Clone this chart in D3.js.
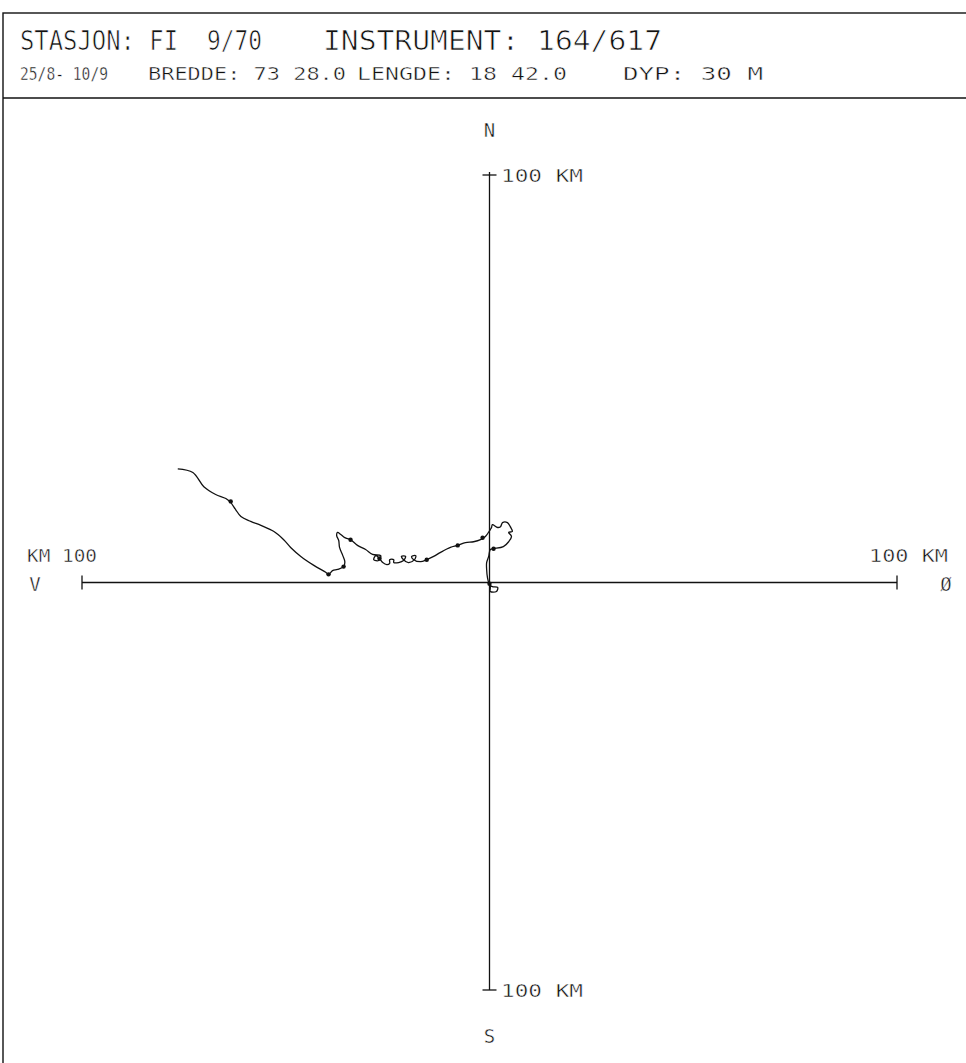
<!DOCTYPE html>
<html><head><meta charset="utf-8">
<script src="https://cdn.jsdelivr.net/npm/d3@7"></script>
<style>html,body{margin:0;padding:0;background:#fff;}svg{display:block;}</style>
</head><body>
<svg id="c" width="966" height="1063"></svg>
<script>
// ---- data (km east, km north) ----
const pathEastKm  = [0,0.2,0.2,1.7,2.0,0.7,0,-0.5,-0.7,-0.7,-0.2,0.2,1.0,3.4,4.7,5.4,4.7,5.6,5.1,4.4,3.2,2.7,2.0,0.7,0.5,0.2,-1.0,-2.2,-3.9,-5.9,-7.8,-9.6,-12.0,-13.7,-15.4,-16.9,-18.6,-19.1,-18.1,-18.4,-19.9,-21.1,-21.6,-20.6,-21.1,-22.3,-23.5,-23.5,-24.5,-24.5,-25.2,-26.2,-27.0,-27.9,-28.4,-27.2,-26.7,-28.7,-30.4,-32.4,-34.1,-35.5,-36.5,-37.3,-37.5,-37.0,-36.8,-36.0,-35.5,-35.8,-37.3,-38.5,-39.5,-40.2,-43.1,-46.3,-48.8,-50.5,-52.9,-56.1,-58.6,-61.0,-62.3,-63.5,-64.7,-67.2,-70.1,-72.8,-76.5];
const pathNorthKm = [0,-1.2,-2.2,-2.2,-1.2,-1.0,-0.5,1.2,3.2,4.9,6.4,8.1,8.3,8.8,10.0,11.3,12.3,12.5,13.7,14.7,14.7,13.7,13.5,14.2,13.5,13.0,11.3,10.5,10.0,9.8,9.1,8.6,7.4,6.4,5.6,5.1,5.6,6.4,6.6,5.6,4.9,5.6,6.4,6.4,5.4,4.9,4.9,5.6,5.6,4.7,4.4,4.9,5.9,6.6,5.6,5.4,6.6,6.9,8.1,9.1,10.5,11.0,11.8,12.3,11.5,10.3,8.6,6.6,5.1,3.9,3.2,2.9,2.0,2.5,4.2,6.4,8.6,10.5,12.5,14.0,15.0,16.2,17.9,19.6,20.6,21.6,23.5,27.0,27.9];
const markerEastKm  = [0,1.0,-1.7,-7.8,-15.4,-27.0,-34.1,-35.8,-39.5,-63.5];
const markerNorthKm = [-0.3,8.3,11.0,9.1,5.6,5.9,10.5,3.9,2.0,19.9];
const axisExtentKm = [-100, 100];
const titleLine1 = [["STASJON: FI",20,158],["9/70",207,55],["INSTRUMENT: 164/617",323,339]];
const titleLine2 = [["25/8- 10/9",20,88],["BREDDE: 73 28.0",148,198],["LENGDE: 18 42.0",357,210],["DYP: 30 M",623,140]];
const compass = {N:"N", S:"S", V:"V", E:"Ø"};
const tickLabels = {top:"100 KM", bottom:"100 KM", left:"KM 100", right:"100 KM"};

const svg = d3.select("#c");
const ink = "#111";
const font = "'DejaVu Sans Mono', monospace";

// frame
svg.append("rect").attr("x",3).attr("y",13).attr("width",1000).attr("height",1100)
  .attr("fill","none").attr("stroke",ink).attr("stroke-width",1.4);
svg.append("line").attr("x1",3).attr("x2",966).attr("y1",98).attr("y2",98)
  .attr("stroke",ink).attr("stroke-width",1.4);

// thin plotter-like text: white stroke over fill slims glyphs
const thin = (sel, w)=> sel.attr("stroke","#fff").attr("stroke-width",w).attr("paint-order","fill stroke");

// header
thin(svg.selectAll("text.t1").data(titleLine1).enter().append("text")
  .attr("x",d=>d[1]).attr("y",50).attr("textLength",d=>d[2]).attr("lengthAdjust","spacingAndGlyphs")
  .attr("font-family",font).attr("font-size",26).attr("fill",ink).text(d=>d[0]), 0.7);
thin(svg.selectAll("text.t2").data(titleLine2).enter().append("text")
  .attr("x",d=>d[1]).attr("y",80).attr("textLength",d=>d[2]).attr("lengthAdjust","spacingAndGlyphs")
  .attr("font-family",font).attr("font-size",18).attr("fill",ink).text(d=>d[0]), 0.45);

// scales
const x = d3.scaleLinear().domain(axisExtentKm).range([82, 897]);
const y = d3.scaleLinear().domain(axisExtentKm).range([990, 175]);
const x0 = x(0), y0 = y(0);
const g = svg.append("g").attr("stroke",ink).attr("stroke-width",1.3);
g.append("line").attr("x1",x(axisExtentKm[0])).attr("x2",x(axisExtentKm[1])).attr("y1",y0).attr("y2",y0);
g.append("line").attr("x1",x0).attr("x2",x0).attr("y1",y(axisExtentKm[1])-3).attr("y2",y(axisExtentKm[0]));
const t = 7;
axisExtentKm.forEach(v=>{
  g.append("line").attr("x1",x(v)).attr("x2",x(v)).attr("y1",y0-t).attr("y2",y0+t);
  g.append("line").attr("x1",x0-t).attr("x2",x0+t).attr("y1",y(v)).attr("y2",y(v));
});

// labels
const lab = (txt,xx,yy,anchor,size,len)=>{
  const e = svg.append("text").attr("x",xx).attr("y",yy).attr("text-anchor",anchor)
    .attr("font-family",font).attr("font-size",size).attr("fill",ink).text(txt);
  if(len) e.attr("textLength",len).attr("lengthAdjust","spacingAndGlyphs");
  thin(e, 0.45);
};
lab(compass.N, x0, 137, "middle", 19);
lab(compass.S, x0, 1043, "middle", 19);
lab(compass.V, 35, 591, "middle", 19);
lab(compass.E, 946, 591, "middle", 19);
lab(tickLabels.top, 501, y(100)+7, "start", 18, 82);
lab(tickLabels.bottom, 501, y(-100)+7, "start", 18, 82);
lab(tickLabels.left, 27, 562, "start", 18, 70);
lab(tickLabels.right, 869, 562, "start", 18, 79);

// trajectory
const pts = pathEastKm.map((e,i)=>[x(e), y(pathNorthKm[i])]);
svg.append("path").attr("d", d3.line().curve(d3.curveCatmullRom.alpha(0.5))(pts))
  .attr("fill","none").attr("stroke",ink).attr("stroke-width",1.3).attr("stroke-linejoin","round");
svg.selectAll("circle.m").data(markerEastKm).enter().append("circle")
  .attr("cx",(d)=>x(d)).attr("cy",(d,i)=>y(markerNorthKm[i])).attr("r",2.2).attr("fill",ink);
</script>
</body></html>
